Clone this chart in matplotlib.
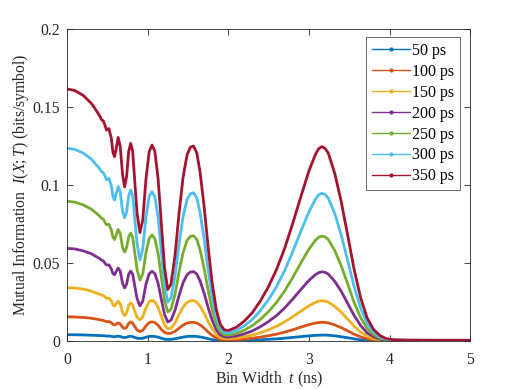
import numpy as np
import matplotlib
matplotlib.use("Agg")
import matplotlib.pyplot as plt
from matplotlib.lines import Line2D

plt.rcParams['font.family'] = ['Liberation Serif', 'DejaVu Serif']
plt.rcParams['mathtext.fontset'] = 'custom'
plt.rcParams['mathtext.rm'] = 'Liberation Serif'
plt.rcParams['mathtext.it'] = 'Liberation Serif:italic'

# bin width t (ns), shared by all curves
t_ns = [0.00, 0.10, 0.20, 0.30, 0.35, 0.40, 0.43, 0.45, 0.47, 0.49,
        0.52, 0.55, 0.57, 0.59, 0.61, 0.635, 0.66, 0.69, 0.715, 0.74,
        0.765, 0.79, 0.815, 0.84, 0.87, 0.905, 0.94, 0.98, 1.02, 1.055,
        1.09, 1.13, 1.17, 1.21, 1.25, 1.29, 1.34, 1.39, 1.44, 1.49,
        1.53, 1.57, 1.61, 1.65, 1.70, 1.75, 1.80, 1.85, 1.90, 1.95,
        2.00, 2.10, 2.20, 2.30, 2.40, 2.50, 2.60, 2.70, 2.80, 2.90,
        3.00, 3.08, 3.12, 3.16, 3.20, 3.24, 3.32, 3.40, 3.48, 3.56,
        3.64, 3.72, 3.80, 3.88, 3.96, 4.05, 4.20, 4.50, 5.00]

mi_50 = [0.0040, 0.0040, 0.0039, 0.0037, 0.0036, 0.0035, 0.0034, 0.0034, 0.0033, 0.0032,
         0.0032, 0.0030, 0.0028, 0.0027, 0.0029, 0.0031, 0.0029, 0.0024, 0.0022, 0.0024,
         0.0029, 0.0030, 0.0028, 0.0023, 0.0018, 0.0016, 0.0018, 0.0024, 0.0029, 0.0030,
         0.0029, 0.0025, 0.0018, 0.0012, 0.0010, 0.0011, 0.0014, 0.0020, 0.0025, 0.0029,
         0.0030, 0.0030, 0.0029, 0.0026, 0.0021, 0.0015, 0.0009, 0.0005, 0.0003, 0.0002,
         0.0002, 0.0003, 0.0004, 0.0006, 0.0008, 0.0011, 0.0014, 0.0018, 0.0023, 0.0028,
         0.0033, 0.0036, 0.0037, 0.0038, 0.0038, 0.0037, 0.0033, 0.0027, 0.0021, 0.0014,
         0.0008, 0.0004, 0.0002, 0.0001, 0.0001, 0.0001, 0.0001, 0.0001, 0.0001]

mi_100 = [0.0155, 0.0154, 0.0151, 0.0146, 0.0142, 0.0137, 0.0133, 0.0132, 0.0128, 0.0124,
          0.0125, 0.0118, 0.0106, 0.0102, 0.0108, 0.0116, 0.0110, 0.0087, 0.0080, 0.0088,
          0.0113, 0.0122, 0.0115, 0.0093, 0.0070, 0.0060, 0.0068, 0.0097, 0.0118, 0.0123,
          0.0118, 0.0101, 0.0074, 0.0055, 0.0048, 0.0050, 0.0062, 0.0082, 0.0102, 0.0115,
          0.0119, 0.0120, 0.0115, 0.0104, 0.0083, 0.0058, 0.0036, 0.0020, 0.0010, 0.0007,
          0.0006, 0.0008, 0.0012, 0.0018, 0.0025, 0.0034, 0.0044, 0.0057, 0.0072, 0.0089,
          0.0105, 0.0115, 0.0118, 0.0120, 0.0119, 0.0116, 0.0103, 0.0086, 0.0065, 0.0044,
          0.0027, 0.0014, 0.0007, 0.0003, 0.0002, 0.0001, 0.0001, 0.0001, 0.0001]

mi_150 = [0.0342, 0.0339, 0.0333, 0.0320, 0.0310, 0.0301, 0.0294, 0.0292, 0.0283, 0.0274,
          0.0275, 0.0258, 0.0232, 0.0224, 0.0238, 0.0255, 0.0240, 0.0182, 0.0162, 0.0180,
          0.0230, 0.0245, 0.0232, 0.0192, 0.0152, 0.0136, 0.0155, 0.0212, 0.0252, 0.0261,
          0.0252, 0.0216, 0.0159, 0.0103, 0.0078, 0.0082, 0.0116, 0.0170, 0.0218, 0.0248,
          0.0257, 0.0259, 0.0249, 0.0224, 0.0179, 0.0125, 0.0078, 0.0042, 0.0022, 0.0015,
          0.0014, 0.0018, 0.0027, 0.0038, 0.0053, 0.0072, 0.0095, 0.0123, 0.0156, 0.0191,
          0.0226, 0.0247, 0.0255, 0.0258, 0.0256, 0.0249, 0.0222, 0.0185, 0.0140, 0.0095,
          0.0058, 0.0031, 0.0015, 0.0007, 0.0003, 0.0002, 0.0001, 0.0001, 0.0001]

mi_200 = [0.0594, 0.0590, 0.0578, 0.0560, 0.0545, 0.0530, 0.0518, 0.0514, 0.0500, 0.0487,
          0.0488, 0.0462, 0.0432, 0.0425, 0.0445, 0.0468, 0.0448, 0.0368, 0.0340, 0.0365,
          0.0428, 0.0448, 0.0428, 0.0355, 0.0270, 0.0225, 0.0255, 0.0365, 0.0432, 0.0447,
          0.0432, 0.0370, 0.0268, 0.0170, 0.0122, 0.0133, 0.0197, 0.0292, 0.0374, 0.0425,
          0.0442, 0.0445, 0.0429, 0.0386, 0.0308, 0.0215, 0.0134, 0.0073, 0.0039, 0.0027,
          0.0025, 0.0032, 0.0046, 0.0065, 0.0092, 0.0125, 0.0164, 0.0212, 0.0269, 0.0330,
          0.0388, 0.0425, 0.0438, 0.0444, 0.0440, 0.0429, 0.0383, 0.0319, 0.0242, 0.0164,
          0.0100, 0.0053, 0.0027, 0.0012, 0.0005, 0.0003, 0.0002, 0.0002, 0.0002]

mi_250 = [0.0896, 0.0890, 0.0873, 0.0846, 0.0825, 0.0803, 0.0786, 0.0782, 0.0762, 0.0745,
          0.0748, 0.0712, 0.0665, 0.0650, 0.0680, 0.0715, 0.0690, 0.0598, 0.0570, 0.0600,
          0.0668, 0.0692, 0.0665, 0.0570, 0.0455, 0.0390, 0.0430, 0.0568, 0.0658, 0.0680,
          0.0656, 0.0562, 0.0410, 0.0260, 0.0186, 0.0203, 0.0300, 0.0443, 0.0567, 0.0645,
          0.0671, 0.0675, 0.0651, 0.0586, 0.0467, 0.0327, 0.0203, 0.0111, 0.0059, 0.0040,
          0.0037, 0.0048, 0.0069, 0.0099, 0.0139, 0.0189, 0.0248, 0.0321, 0.0408, 0.0500,
          0.0589, 0.0645, 0.0665, 0.0673, 0.0667, 0.0651, 0.0580, 0.0483, 0.0367, 0.0248,
          0.0151, 0.0081, 0.0041, 0.0019, 0.0008, 0.0005, 0.0004, 0.0003, 0.0003]

mi_300 = [0.1236, 0.1228, 0.1205, 0.1167, 0.1138, 0.1108, 0.1085, 0.1080, 0.1060, 0.1034,
          0.1042, 0.0995, 0.0926, 0.0904, 0.0943, 0.0990, 0.0956, 0.0830, 0.0790, 0.0830,
          0.0930, 0.0968, 0.0930, 0.0788, 0.0620, 0.0520, 0.0590, 0.0795, 0.0929, 0.0957,
          0.0925, 0.0792, 0.0575, 0.0358, 0.0248, 0.0277, 0.0418, 0.0623, 0.0798, 0.0908,
          0.0944, 0.0950, 0.0916, 0.0825, 0.0657, 0.0460, 0.0285, 0.0156, 0.0082, 0.0055,
          0.0051, 0.0067, 0.0097, 0.0139, 0.0196, 0.0266, 0.0350, 0.0452, 0.0574, 0.0703,
          0.0828, 0.0908, 0.0937, 0.0947, 0.0939, 0.0916, 0.0817, 0.0680, 0.0517, 0.0350,
          0.0213, 0.0114, 0.0057, 0.0027, 0.0011, 0.0006, 0.0005, 0.0004, 0.0004]

mi_350 = [0.1616, 0.1605, 0.1575, 0.1525, 0.1488, 0.1448, 0.1418, 0.1412, 0.1385, 0.1352,
          0.1362, 0.1300, 0.1210, 0.1182, 0.1232, 0.1305, 0.1250, 0.1065, 0.0988, 0.1055,
          0.1215, 0.1267, 0.1215, 0.1030, 0.0815, 0.0695, 0.0775, 0.1040, 0.1215, 0.1256,
          0.1215, 0.1040, 0.0755, 0.0470, 0.0330, 0.0365, 0.0550, 0.0820, 0.1050, 0.1195,
          0.1242, 0.1250, 0.1205, 0.1085, 0.0865, 0.0605, 0.0375, 0.0205, 0.0108, 0.0072,
          0.0067, 0.0088, 0.0128, 0.0183, 0.0258, 0.0350, 0.0460, 0.0595, 0.0755, 0.0925,
          0.1090, 0.1195, 0.1232, 0.1246, 0.1235, 0.1205, 0.1075, 0.0895, 0.0680, 0.0460,
          0.0280, 0.0150, 0.0075, 0.0035, 0.0015, 0.0008, 0.0006, 0.0005, 0.0005]

labels = ['50 ps', '100 ps', '150 ps', '200 ps', '250 ps', '300 ps', '350 ps']
series = [mi_50, mi_100, mi_150, mi_200, mi_250, mi_300, mi_350]
colors = ['#0072BD', '#D95319', '#EDB120', '#7E2F8E', '#77AC30', '#4DBEEE', '#A2142F']

fig = plt.figure(figsize=(5.19, 3.89), dpi=100)
ax = fig.add_axes([0.129, 0.1234, 0.777, 0.802])

for y, c in zip(series, colors):
    ax.plot(t_ns, y, color=c, lw=2.0, solid_joinstyle='round')

ax.set_xlim(0, 5)
ax.set_ylim(0, 0.2)
ax.set_xticks([0, 1, 2, 3, 4, 5])
ax.set_yticks([0, 0.05, 0.1, 0.15, 0.2])
ax.set_yticklabels(['0', '0.05', '0.1', '0.15', '0.2'])
ax.tick_params(direction='in', top=True, right=True, length=4, width=0.6,
               labelsize=11.3, colors='#262626')
ax.tick_params(axis='x', pad=8)
ax.tick_params(axis='y', pad=5)
for s in ax.spines.values():
    s.set_linewidth(0.6)
    s.set_color('#262626')

ax.set_xlabel(r'Bin Width  $t$ (ns)', fontsize=11.3, color='#262626', labelpad=1.5)
ax.set_ylabel(r'Mutual Information  $\mathit{I(X;T)}$ (bits/symbol)', fontsize=11.3,
              color='#262626', labelpad=1)

handles = [Line2D([], [], color=c, lw=1.0, marker='.', markersize=4) for c in colors]
leg = ax.legend(handles, labels, loc='upper right', bbox_to_anchor=(0.975, 0.974),
                borderaxespad=0, fontsize=11.5, frameon=True, fancybox=False,
                handlelength=2.4, handletextpad=0.15, labelspacing=0.31,
                borderpad=0.35)
leg.get_frame().set_edgecolor('#262626')
leg.get_frame().set_linewidth(0.6)

fig.savefig('out.png', dpi=100)
